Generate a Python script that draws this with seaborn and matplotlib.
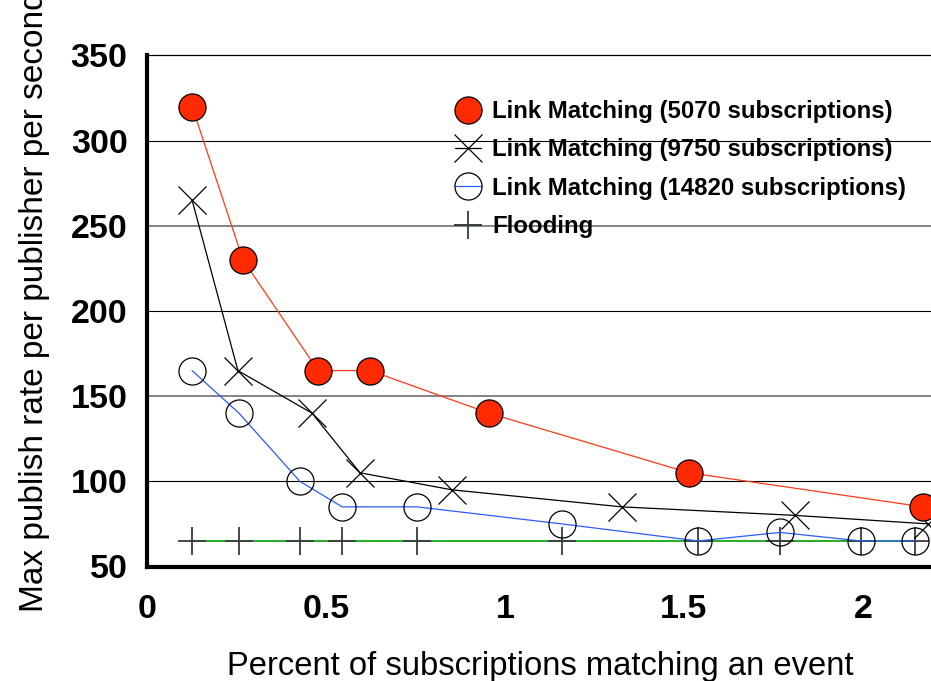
import matplotlib
matplotlib.use("Agg")
import matplotlib.pyplot as plt
import seaborn as sns
import pandas as pd

# ---- data ----
x_5070 = [0.126, 0.268, 0.478, 0.623, 0.955, 1.514, 2.168]
y_5070 = [320, 230, 165, 165, 140, 105, 85]

x_9750 = [0.126, 0.254, 0.461, 0.595, 0.852, 1.327, 1.810, 2.182]
y_9750 = [265, 165, 140, 105, 95, 85, 80, 75]

x_14820 = [0.126, 0.257, 0.427, 0.545, 0.754, 1.159, 1.539, 1.768, 1.994, 2.145]
y_14820 = [165, 140, 100, 85, 85, 75, 65, 70, 65, 65]

x_flood = [0.126, 0.257, 0.427, 0.545, 0.754, 1.159, 1.539, 1.768, 1.994, 2.145]
y_flood = [65, 65, 65, 65, 65, 65, 65, 65, 65, 65]

labels = ["Link Matching (5070 subscriptions)",
          "Link Matching (9750 subscriptions)",
          "Link Matching (14820 subscriptions)",
          "Flooding"]
xticks = [0, 0.5, 1, 1.5, 2]
xticklabels = ["0", "0.5", "1", "1.5", "2"]
yticks = [50, 100, 150, 200, 250, 300, 350]

sns.set_style("white")
plt.rcParams["font.family"] = ["Liberation Sans", "DejaVu Sans"]
plt.rcParams["text.color"] = "black"
plt.rcParams["axes.labelcolor"] = "black"
plt.rcParams["xtick.color"] = "black"
plt.rcParams["ytick.color"] = "black"

W, H = 931, 681
fig = plt.figure(figsize=(W / 100, H / 100), dpi=100)
ax = fig.add_axes([147 / W, (H - 566.5) / H, (W - 147) / W, (566.5 - 55.4) / H])
ax.set_xlim(0, 2.19)
ax.set_ylim(50, 350)

# grid lines
for yv, col, lw in [(100, "black", 0.8), (150, "#7a7a7a", 1.3), (200, "black", 0.8),
                    (250, "#7a7a7a", 1.3), (300, "black", 0.8)]:
    ax.axhline(yv, color=col, lw=lw, zorder=0.5)

ms = 19.5
df_flood = pd.DataFrame({"x": x_flood, "y": y_flood})
sns.lineplot(data=df_flood, x="x", y="y", ax=ax, sort=False, estimator=None,
             color="#00a000", lw=1.2, marker="+", markersize=ms,
             markeredgecolor="#3a3a3a", markeredgewidth=1.3, label=labels[3], zorder=2)

df_b = pd.DataFrame({"x": x_14820, "y": y_14820})
sns.lineplot(data=df_b, x="x", y="y", ax=ax, sort=False, estimator=None,
             color="#2a5cff", lw=0.9, marker="o", markersize=ms,
             markerfacecolor="none", markeredgecolor="black", markeredgewidth=0.9,
             label=labels[2], zorder=3)

df_k = pd.DataFrame({"x": x_9750, "y": y_9750})
sns.lineplot(data=df_k, x="x", y="y", ax=ax, sort=False, estimator=None,
             color="black", lw=0.9, marker="x", markersize=ms,
             markeredgecolor="black", markeredgewidth=0.9,
             label=labels[1], zorder=4)

df_r = pd.DataFrame({"x": x_5070, "y": y_5070})
sns.lineplot(data=df_r, x="x", y="y", ax=ax, sort=False, estimator=None,
             color="#ff3a14", lw=0.9, marker="o", markersize=ms,
             markerfacecolor="#ff2a00", markeredgecolor="black", markeredgewidth=0.9,
             label=labels[0], zorder=5)

# spines
for s in ["left", "bottom"]:
    ax.spines[s].set_linewidth(3.0)
    ax.spines[s].set_color("black")
ax.spines["top"].set_linewidth(0.9)
ax.spines["top"].set_color("black")
ax.spines["right"].set_visible(False)

ax.set_xticks(xticks)
ax.set_xticklabels(xticklabels)
ax.set_yticks(yticks)
ax.tick_params(axis="both", length=0, colors="black")
ax.tick_params(axis="y", pad=14)
ax.tick_params(axis="x", pad=20)
for t in ax.get_xticklabels() + ax.get_yticklabels():
    t.set_fontsize(24.5)
    t.set_fontweight("bold")
    t.set_color("black")
ax.set_xlabel("")
ax.set_ylabel("")

fig.text(540 / W, (H - 675) / H, "Percent of subscriptions matching an event",
         ha="center", va="baseline", fontsize=23.6, color="black")
fig.text(35 / W, (H - 612) / H, "Max publish rate per publisher per second",
         ha="center", va="bottom", rotation=90, fontsize=24, color="black")

handles, labs = ax.get_legend_handles_labels()
order = [labs.index(l) for l in labels]
leg = ax.legend([handles[i] for i in order], [labs[i] for i in order],
                loc="upper left", bbox_to_anchor=(455 / W, (H - 100) / H),
                bbox_transform=fig.transFigure, frameon=False,
                borderpad=0, borderaxespad=0, handlelength=1.1, handletextpad=0.45,
                labelspacing=0.64, numpoints=1,
                prop={"weight": "bold", "size": 17.3})
for txt in leg.get_texts():
    txt.set_color("black")

fig.savefig("out.png", dpi=100)
